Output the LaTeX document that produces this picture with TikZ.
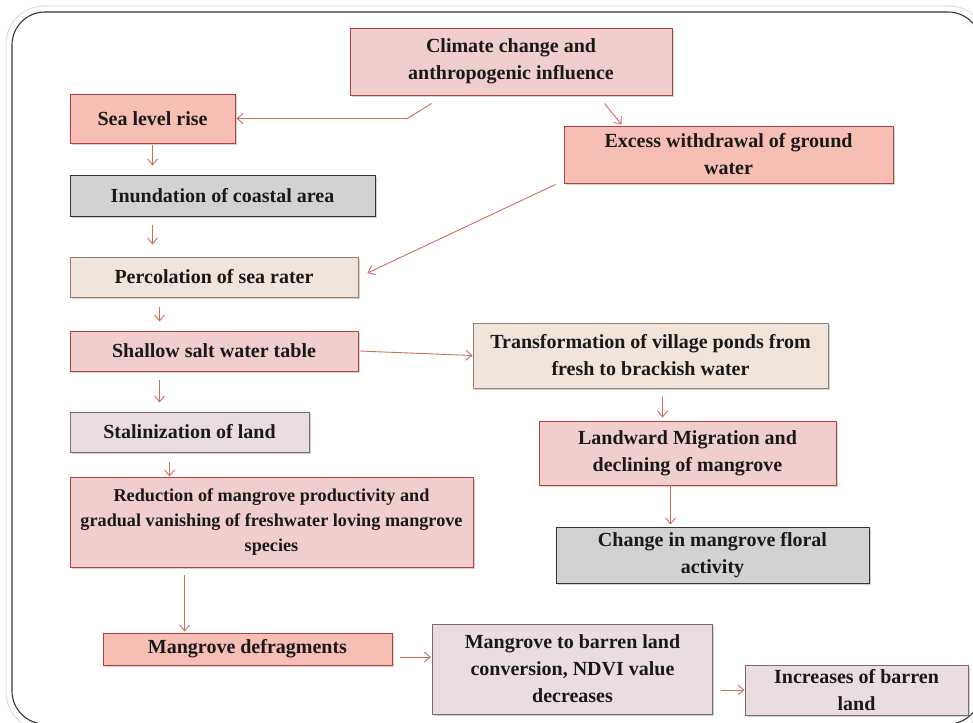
\documentclass[tikz,border=0pt]{standalone}
\usepackage{fontspec}
\setmainfont{Liberation Serif}
\usetikzlibrary{positioning}
\usetikzlibrary{calc}
\usetikzlibrary{arrows.meta, shadows}

\definecolor{arrowred}{RGB}{200,112,94}
\definecolor{salmonfill}{RGB}{247,190,182}
\definecolor{pinkfill}{RGB}{240,206,206}
\definecolor{beigefill}{RGB}{241,229,219}
\definecolor{mauvefill}{RGB}{234,221,223}
\definecolor{greyfill}{RGB}{210,210,210}
\definecolor{redborder}{RGB}{170,70,62}
\definecolor{brownborder}{RGB}{150,125,110}
\definecolor{mauveborder}{RGB}{125,105,110}

\begin{document}
\begin{tikzpicture}[x=1pt, y=-1pt,
                basenode/.style={rectangle, line width=0.9pt, align=center, inner sep=2pt,
                    font=\fontsize{20}{27}\selectfont\bfseries, text=black!90,
                    drop shadow={shadow xshift=1.5pt, shadow yshift=-2pt, opacity=0.35}},
                salmonsquarednode/.style={basenode, draw=redborder, fill=salmonfill},
                pinksquarednode/.style={basenode, draw=redborder, fill=pinkfill},
                beigesquarednode/.style={basenode, draw=brownborder, fill=beigefill},
                mauvesquarednode/.style={basenode, draw=mauveborder, fill=mauvefill},
                greysquarednode/.style={basenode, draw=black!80, fill=greyfill},
                flow/.style={draw=arrowred, line width=0.9pt, -{Straight Barb[length=6pt, width=10pt]}},
                ]
                \useasboundingbox (0,0) rectangle (973,722);
                \fill[white] (0,0) rectangle (973,722);
                \draw[black!12, line width=1pt, rounded corners=38pt] (6,6) rectangle (987,730);
                \draw[black!80, line width=1.1pt, rounded corners=33pt] (12,12) rectangle (981,724);

                \node[pinksquarednode, minimum width=322pt, minimum height=67pt] (clim) at (511,61.5) {Climate change and\\anthropogenic influence};
                \node[salmonsquarednode, minimum width=165pt, minimum height=49pt] (sea) at (152.5,118.5) {Sea level rise};
                \node[salmonsquarednode, minimum width=329pt, minimum height=57pt] (exc) at (728.5,154.5) {Excess withdrawal of ground\\water};
                \node[greysquarednode, minimum width=305pt, minimum height=41pt] (inun) at (222.5,195.5) {Inundation of coastal area};
                \node[beigesquarednode, minimum width=288pt, minimum height=40pt] (perc) at (214,277) {Percolation of sea rater};
                \node[pinksquarednode, minimum width=288pt, minimum height=40pt] (shal) at (214,351) {Shallow salt water table};
                \node[mauvesquarednode, minimum width=239pt, minimum height=40pt] (stal) at (189.5,432) {Stalinization of land};
                \node[pinksquarednode, minimum width=403pt, minimum height=90pt, font=\fontsize{18.2}{25}\selectfont\bfseries] (red) at (271.5,522) {Reduction of mangrove productivity and\\gradual vanishing of freshwater loving mangrove\\species};

                \node[beigesquarednode, minimum width=355pt, minimum height=65pt] (trans) at (650.5,355.5) {Transformation of village ponds from\\fresh to  brackish water};
                \node[pinksquarednode, minimum width=297pt, minimum height=64pt] (land) at (687.5,453) {Landward Migration and\\declining of mangrove};
                \node[greysquarednode, minimum width=313pt, minimum height=56pt] (chg) at (712.5,555) {Change in mangrove floral\\activity};

                \node[salmonsquarednode, minimum width=289pt, minimum height=32pt] (defr) at (247.5,649) {Mangrove defragments};
                \node[mauvesquarednode, minimum width=280pt, minimum height=90pt] (conv) at (572.5,669) {Mangrove to barren land\\conversion, NDVI value\\decreases};
                \node[mauvesquarednode, minimum width=223pt, minimum height=50pt] (incr) at (856.5,690) {Increases of barren\\land};

                % top links
                \draw[flow, shorten >=1pt] ($(clim.south west)+(82,8)$) -- ($(clim.south west)+(58,23)$) -- (sea.east);
                \draw[flow] ($(clim.south west)+(255,8)$) -- ($(exc.north west)+(58,-1)$);
                \draw[flow] ($(exc.south west)+(-8,1)$) -- ($(perc.east)+(9,-4)$);

                % left column
                \draw[flow, shorten <=2pt, shorten >=9pt] (sea.south) -- (sea.south |- inun.north);
                \draw[flow, shorten <=9pt, shorten >=12pt] (sea.south |- inun.south) -- (sea.south |- perc.north);
                \draw[flow, shorten <=10pt, shorten >=9pt] ($(perc.south west)+(90,0)$) -- ($(shal.north west)+(90,0)$);
                \draw[flow, shorten <=9pt, shorten >=9pt] ($(shal.south west)+(90,0)$) -- ($(stal.north west)+(90,0)$);
                \draw[flow, shorten <=10pt] ($(stal.south west)+(100,0)$) -- ($(red.north west)+(100,0)$);
                \draw[flow, shorten <=8pt, shorten >=1pt] ($(red.south west)+(115,0)$) -- ($(defr.north west)+(82,0)$);

                % right column
                \draw[flow, shorten <=2pt] (shal.east) -- (trans.west);
                \draw[flow, shorten <=9pt, shorten >=3pt] ($(trans.south west)+(190,0)$) -- ($(land.north west)+(124,0)$);
                \draw[flow, shorten >=2pt] ($(land.south west)+(132,0)$) -- ($(chg.north west)+(115,0)$);

                % bottom row
                \draw[flow, shorten <=8pt, shorten >=1pt] ($(defr.east)+(0,8)$) -- ($(conv.west)+(0,-12)$);
                \draw[flow, shorten <=8pt] (incr.west -| conv.east) -- (incr.west);
            \end{tikzpicture}
\end{document}
